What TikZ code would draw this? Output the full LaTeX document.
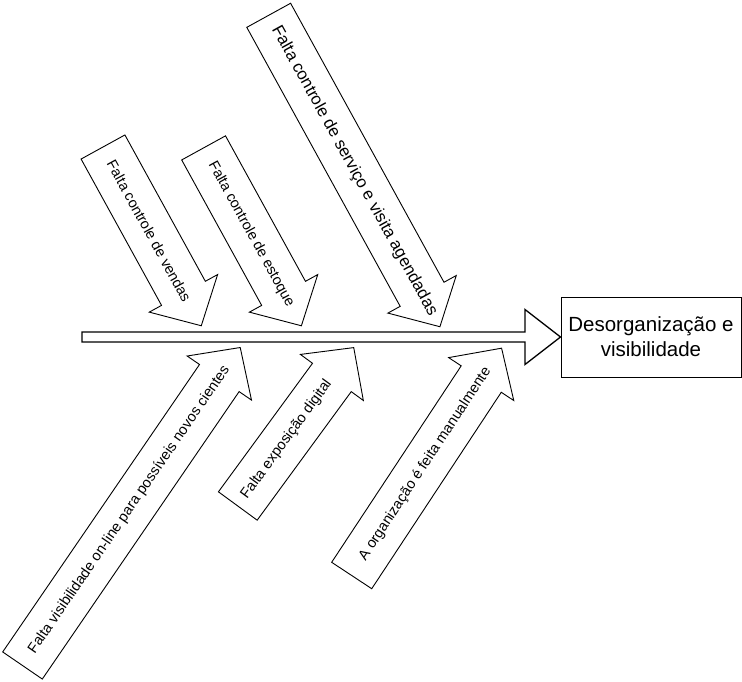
\documentclass[tikz,border=0pt]{standalone}
\usepackage{fontspec}
\setmainfont{Liberation Sans}
\tikzset{
  arrowbody/.style={draw=black, fill=white, line width=0.9pt, line join=miter},
  arrowtext/.style={inner sep=0pt, text=black},
  spinebody/.style={draw=black, fill=white, line width=1.3pt, line join=miter},
  effectbox/.style={draw=black, fill=white, line width=1pt, minimum width=180pt, minimum height=80pt, align=center, inner sep=2pt, font=\fontsize{20.5}{25}\selectfont},
}
% #1 name, #2 tail x, #3 tail y, #4 angle, #5 length, #6 half shaft width, #7 text pos, #8 font size, #9 text
\newcommand{\fisharrow}[9]{%
  \begin{scope}[shift={(#2,#3)}, rotate=#4]
    \draw[arrowbody] (0,#6) -- ({#5-37},#6) -- ({#5-37},39) -- (#5,0) -- ({#5-37},-39) -- ({#5-37},-#6) -- (0,-#6) -- cycle;
    \node[arrowtext, font=\fontsize{#8}{#8}\selectfont, rotate=#4] (#1) at ({#7*#5},0) {#9};
  \end{scope}}
\begin{document}
\begin{tikzpicture}[x=1pt, y=-1pt]
  \useasboundingbox (0,0) rectangle (742,682);
  % effect box
  \node[effectbox] (effect) at (651,337) {Desorganização e\\visibilidade};
  % spine
  \draw[spinebody] (82,332) -- (525,332) -- (525,309.5) -- (effect.west) -- (525,364.5) -- (525,342) -- (82,342) -- cycle;
  % upper causes
  \fisharrow{c1}{103}{147}{-61.2}{204}{25}{0.47}{14.5}{Falta controle de vendas}
  \fisharrow{c2}{203.6}{147.9}{-61.2}{203}{25}{0.485}{14.5}{Falta controle de estoque}
  \fisharrow{c3}{268.7}{15.3}{-61.2}{355.4}{25}{0.5}{16.8}{Falta controle de serviço e visita agendadas}
  % lower causes
  \fisharrow{c4}{22.5}{665.5}{55.6}{385.4}{24}{0.49}{14.5}{Falta visibilidade on-line para possíveis novos cientes}
  \fisharrow{c5}{237.8}{506}{53.8}{196.3}{24}{0.42}{14.5}{Falta exposição digital}
  \fisharrow{c6}{351.7}{575.5}{56.6}{272.3}{24}{0.49}{14.5}{A organização é feita manualmente}
\end{tikzpicture}
\end{document}
